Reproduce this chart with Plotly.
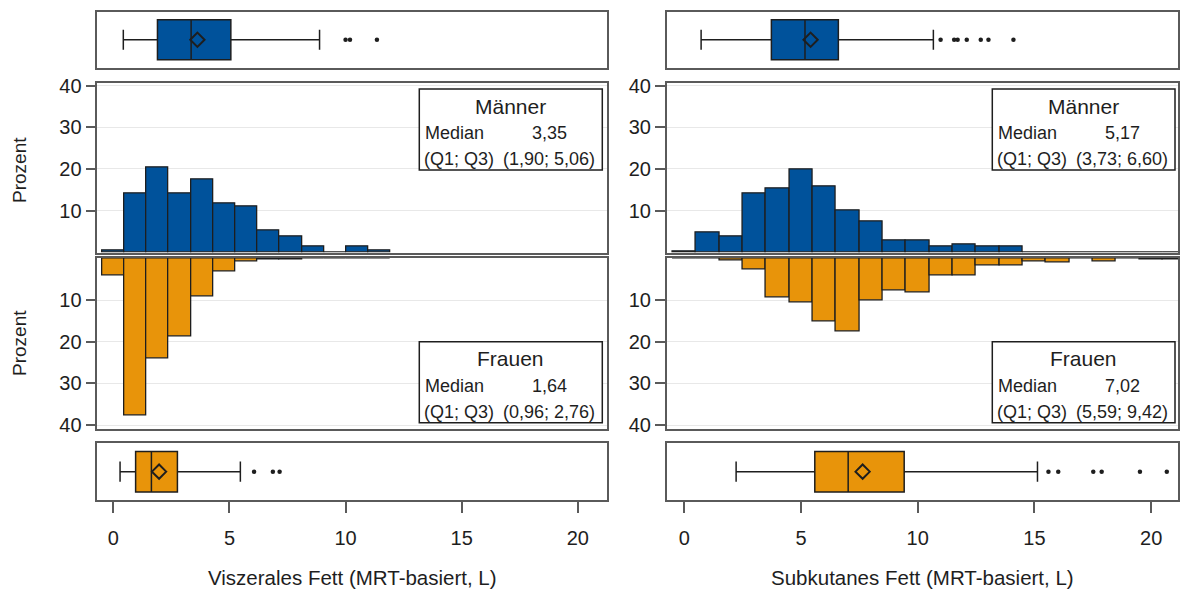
import plotly.graph_objects as go
from plotly.subplots import make_subplots

FONT = "Liberation Sans, Arial, sans-serif"
BLUE = "#00529b"
ORANGE = "#e8940a"
INK = "#1e1e1e"
FRAME = "#5a5a5a"
GRID = "#e8e8e8"

W, H = 1180, 590

# ---- histogram data (percent per bin) ----
visc_centers = [0, 0.955, 1.91, 2.865, 3.82, 4.775, 5.73, 6.685, 7.64,
                8.595, 9.55, 10.505, 11.46]
visc_width = 0.955
visc_men = [0.5, 14.2, 20.4, 14.2, 17.4, 11.6, 11.0, 5.3, 3.7, 1.3, 0.0, 1.35, 0.55]
visc_women = [4.1, 37.7, 24.1, 18.7, 9.2, 3.2, 0.8, 0.2, 0.2, 0, 0, 0, 0]

subc_centers = [0, 1, 2, 3, 4, 5, 6, 7, 8, 9, 10, 11, 12, 13, 14, 15, 16, 17,
                18, 19, 20, 21]
subc_width = 1.0
subc_men = [0.2, 4.8, 3.7, 14.2, 15.3, 19.9, 15.8, 10.1, 7.5, 2.8, 2.8, 1.3,
            1.8, 1.3, 1.3, 0, 0, 0, 0, 0, 0, 0]
subc_women = [0, 0, 0.5, 2.7, 9.4, 10.6, 15.2, 17.5, 10.2, 7.8, 8.2, 4.1, 4.1,
              1.7, 1.7, 0.8, 0.9, 0, 0.8, 0, 0.3, 0.3]

# ---- box-plot statistics ----
# order: lower whisker, Q1, median, Q3, upper whisker, mean
visc_men_stats = [0.43, 1.90, 3.35, 5.06, 8.88, 3.62]
visc_men_out = [10.0, 10.19, 11.35]
subc_men_stats = [0.72, 3.73, 5.17, 6.60, 10.67, 5.41]
subc_men_out = [10.98, 11.56, 11.71, 12.1, 12.7, 13.03, 14.1]
visc_women_stats = [0.29, 0.96, 1.64, 2.76, 5.47, 1.97]
visc_women_out = [6.06, 6.87, 7.16]
subc_women_stats = [2.22, 5.59, 7.02, 9.42, 15.13, 7.64]
subc_women_out = [15.6, 16.02, 17.52, 17.88, 19.52, 20.67]

x_ticks = [0, 5, 10, 15, 20]
y_ticks = [10, 20, 30, 40]
x_titles = ["Viszerales Fett (MRT-basiert, L)", "Subkutanes Fett (MRT-basiert, L)"]


def px(x):
    return x / W


def py(y):
    return 1 - y / H


fig = make_subplots(rows=4, cols=2)


def add_box(stats, outliers, color, row, col):
    lo, q1, med, q3, hi, mean = stats
    fig.add_trace(go.Box(
        orientation="h", y=[0], q1=[q1], median=[med], q3=[q3],
        lowerfence=[lo], upperfence=[hi], width=1.0, whiskerwidth=0.5,
        fillcolor=color, line=dict(color=INK, width=1.5),
        boxpoints=False, hoverinfo="skip", showlegend=False), row=row, col=col)
    fig.add_trace(go.Scatter(
        x=outliers, y=[0] * len(outliers), mode="markers",
        marker=dict(size=4.5, color=INK), showlegend=False, hoverinfo="skip"),
        row=row, col=col)
    fig.add_trace(go.Scatter(
        x=[mean], y=[0], mode="markers",
        marker=dict(symbol="diamond-open", size=11, color=INK,
                    line=dict(width=2, color=INK)),
        showlegend=False, hoverinfo="skip"), row=row, col=col)


def add_hist(centers, values, width, color, row, col):
    fig.add_trace(go.Bar(
        x=centers, y=values, width=width, marker_color=color,
        marker_line=dict(color=INK, width=1.3), showlegend=False,
        hoverinfo="skip"), row=row, col=col)


add_box(visc_men_stats, visc_men_out, BLUE, 1, 1)
add_box(subc_men_stats, subc_men_out, BLUE, 1, 2)
add_hist(visc_centers, visc_men, visc_width, BLUE, 2, 1)
add_hist(subc_centers, subc_men, subc_width, BLUE, 2, 2)
add_hist(visc_centers, visc_women, visc_width, ORANGE, 3, 1)
add_hist(subc_centers, subc_women, subc_width, ORANGE, 3, 2)
add_box(visc_women_stats, visc_women_out, ORANGE, 4, 1)
add_box(subc_women_stats, subc_women_out, ORANGE, 4, 2)

# panel geometry in pixels
col_x = [(97.3, 607.3), (666.7, 1178.0)]
col_range = [[-0.69, 21.27], [-0.754, 21.15]]
row_y = [(11.7, 67.7), (82.5, 252.5), (257.5, 429.0), (443.3, 500.0)]
hist_range = {2: [-0.05, 40.75], 3: [40.96, -0.2]}

frame = dict(showline=True, mirror=True, linecolor=FRAME, linewidth=1.5,
             zeroline=False, automargin=False)

for r in range(1, 5):
    y0, y1 = row_y[r - 1]
    for c in range(1, 3):
        x0, x1 = col_x[c - 1]
        xa = dict(domain=[px(x0), px(x1)], range=col_range[c - 1],
                  showgrid=False, **frame)
        if r == 4:
            xa.update(ticks="outside", ticklen=11, tickwidth=1.5, tickcolor=FRAME,
                      tickvals=x_ticks, showticklabels=True, ticklabelstandoff=8,
                      tickfont=dict(family=FONT, size=20, color=INK))
        else:
            xa.update(ticks="", showticklabels=False)
        fig.update_xaxes(row=r, col=c, **xa)

        ya = dict(domain=[py(y1), py(y0)], **frame)
        if r in (1, 4):
            ya.update(range=[-0.7, 0.7], showticklabels=False, ticks="",
                      showgrid=False)
        else:
            ya.update(range=hist_range[r],
                      tickvals=y_ticks, ticks="outside", ticklen=10,
                      tickwidth=1.5, tickcolor=FRAME, showgrid=True,
                      gridcolor=GRID, gridwidth=1,
                      tickfont=dict(family=FONT, size=20, color=INK))
        fig.update_yaxes(row=r, col=c, **ya)

annotations = []
shapes = []


def fmt(v):
    return f"{v:.2f}".replace(".", ",")


def stat_panel(x0, x1, ytop, title, stats):
    ybot = ytop + 81
    shapes.append(dict(type="rect", xref="paper", yref="paper",
                       x0=px(x0), x1=px(x1), y0=py(ybot), y1=py(ytop),
                       line=dict(color=INK, width=1.5), fillcolor="white",
                       layer="above"))
    vx = x1 - 53
    rows = [
        (title, (x0 + x1) / 2, "center", ytop + 17, 21),
        ("Median", x0 + 4, "left", ytop + 44, 18),
        (fmt(stats[2]), vx, "center", ytop + 44, 18),
        ("(Q1; Q3)", x0 + 3, "left", ytop + 70, 18),
        (f"({fmt(stats[1])}; {fmt(stats[3])})", vx, "center", ytop + 70, 18),
    ]
    for text, x, anchor, y, size in rows:
        annotations.append(dict(text=text, x=px(x), y=py(y), xref="paper",
                                yref="paper", xanchor=anchor, yanchor="middle",
                                showarrow=False,
                                font=dict(family=FONT, size=size, color=INK)))


stat_panel(419.3, 602.3, 89, "Männer", visc_men_stats)
stat_panel(992.3, 1175.0, 89, "Männer", subc_men_stats)
stat_panel(419.3, 602.3, 341.7, "Frauen", visc_women_stats)
stat_panel(992.3, 1175.0, 341.7, "Frauen", subc_women_stats)

for yc in (170, 343):
    annotations.append(dict(text="Prozent", x=px(19), y=py(yc), xref="paper",
                            yref="paper", xanchor="center", yanchor="middle",
                            textangle=-90, showarrow=False,
                            font=dict(family=FONT, size=19, color=INK)))

for c, title in enumerate(x_titles):
    x0, x1 = col_x[c]
    annotations.append(dict(text=title, x=px((x0 + x1) / 2), y=py(577),
                            xref="paper", yref="paper", xanchor="center",
                            yanchor="middle", showarrow=False,
                            font=dict(family=FONT, size=20.5, color=INK)))

fig.update_layout(
    width=W, height=H,
    margin=dict(l=0, r=0, t=0, b=0, pad=0, autoexpand=False),
    paper_bgcolor="white", plot_bgcolor="white",
    font=dict(family=FONT, color=INK), showlegend=False,
    bargap=0, annotations=annotations, shapes=shapes,
)

fig.write_html("out.html")
